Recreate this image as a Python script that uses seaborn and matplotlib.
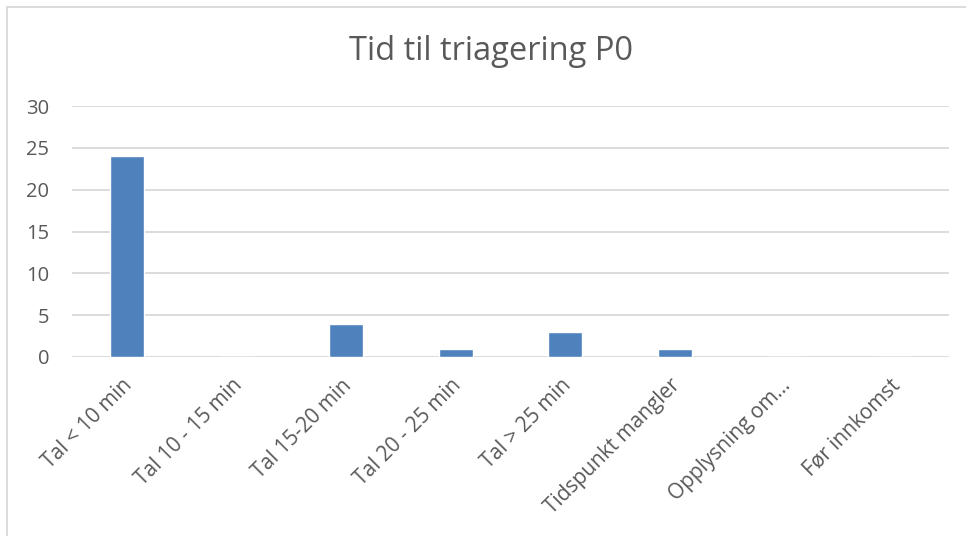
import matplotlib
matplotlib.use("Agg")
import matplotlib.pyplot as plt
import matplotlib.transforms as mtransforms
import seaborn as sns
import pandas as pd
from matplotlib.patches import Rectangle

categories = ["Tal < 10 min", "Tal 10 - 15 min", "Tal 15-20 min", "Tal 20 - 25 min",
              "Tal > 25 min", "Tidspunkt mangler", "Opplysning om…", "Før innkomst"]
values = [24, 0, 4, 1, 3, 1, 0, 0]
yticks = [0, 5, 10, 15, 20, 25, 30]
title = "Tid til triagering P0"

sns.set_theme(style="white")
plt.rcParams['font.family'] = ['Open Sans', 'DejaVu Sans']

text_color = "#595959"
grid_color = "#D9D9D9"
bar_color = "#4F81BD"

df = pd.DataFrame({"cat": categories, "val": values})

fig = plt.figure(figsize=(9.66, 5.36), dpi=100)
fig.patch.set_facecolor("white")
ax = fig.add_axes([72/966, 1-357/536, (949-72)/966, (357-106)/536])

sns.barplot(data=df, x="cat", y="val", color=bar_color, width=0.31,
            saturation=1, ax=ax, zorder=3)

ax.set_ylim(0, 30)
ax.set_xlim(-0.5, len(categories) - 0.5)
ax.set_yticks(yticks)
ax.set_yticklabels([str(t) for t in yticks], fontsize=14.5, color=text_color)
ax.yaxis.grid(True, color=grid_color, linewidth=1.3, zorder=0)
ax.set_axisbelow(True)
for s in ax.spines.values():
    s.set_visible(False)
ax.tick_params(axis="both", length=0)
ax.tick_params(axis="y", pad=16.5)
ax.set_xticks(range(len(categories)))
ax.set_xticklabels(categories, rotation=45, ha="right", rotation_mode="anchor",
                   fontsize=15, color=text_color)
ax.tick_params(axis="x", pad=13)
shift = mtransforms.ScaledTranslation(-5/100, 0, fig.dpi_scale_trans)
for lbl in ax.get_xticklabels():
    lbl.set_transform(lbl.get_transform() + shift)
ax.set_xlabel("")
ax.set_ylabel("")

fig.text(491/966, 1-51/536, title, ha="center", va="center", fontsize=23.5, color=text_color)

fig.patches.append(Rectangle((7/966, -0.1), 1.1, 1 - 7/536 + 0.1, transform=fig.transFigure,
                             fill=False, edgecolor=grid_color, linewidth=1.3, zorder=0))

fig.savefig("out.png", dpi=100, facecolor="white")
